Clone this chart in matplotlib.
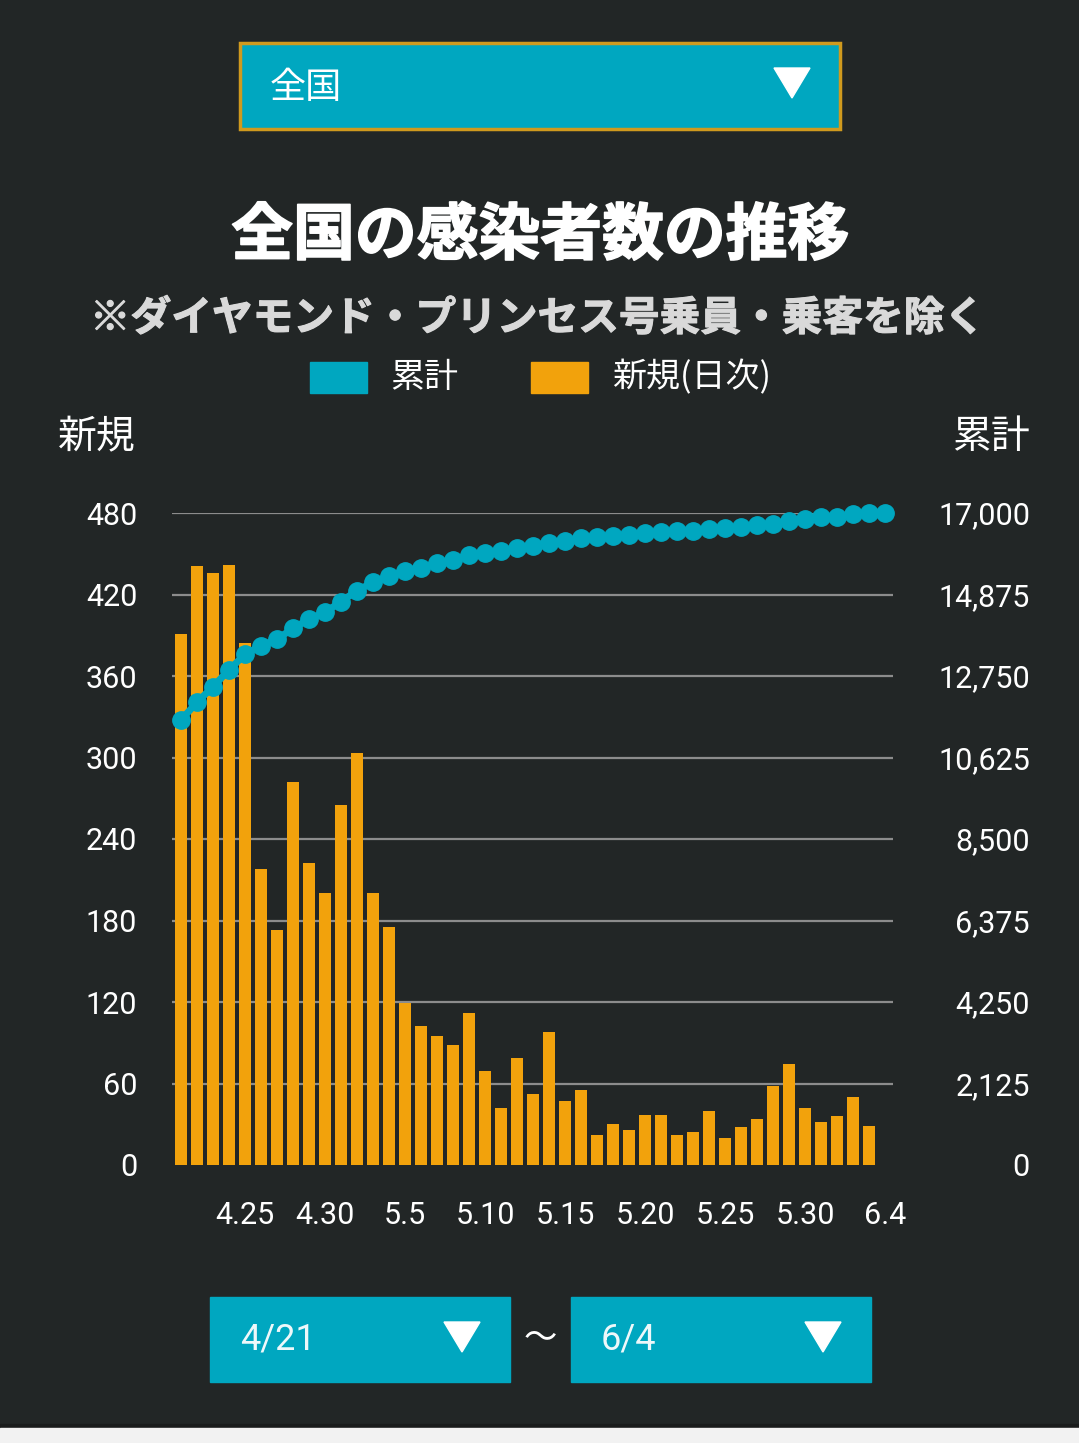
import numpy as np
import pandas as pd
import matplotlib
matplotlib.use("Agg")
import matplotlib.pyplot as plt
import matplotlib.patheffects as pe
from matplotlib.patches import Rectangle, Polygon

# データ
dates = pd.date_range("2020-04-21", "2020-06-04")
new_cases = [391, 441, 436, 442, 384, 218, 173, 282, 222, 200, 265, 303, 200,
             175, 119, 102, 95, 88, 112, 69, 42, 79, 52, 98, 47, 55, 22, 30,
             26, 37, 37, 22, 24, 40, 20, 28, 34, 58, 74, 42, 32, 36, 50, 29]
cumulative = [11603, 12065, 12472, 12907, 13316, 13540, 13707, 13994, 14229,
              14411, 14688, 14975, 15193, 15358, 15488, 15575, 15689, 15775,
              15905, 15966, 15997, 16075, 16148, 16226, 16278, 16341, 16367,
              16409, 16427, 16471, 16505, 16523, 16539, 16575, 16601, 16627,
              16679, 16713, 16792, 16844, 16888, 16904, 16966, 16992, 17008]
left_ticks = [0, 60, 120, 180, 240, 300, 360, 420, 480]
right_ticks = [0, 2125, 4250, 6375, 8500, 10625, 12750, 14875, 17000]
label_days = [4, 9, 14, 19, 24, 29, 34, 39, 44]

BG = "#222626"
CYAN = "#00a7c0"
ORANGE = "#f2a20c"
GRID = "#8c8c8c"
JP = ["Noto Sans CJK JP", "DejaVu Sans"]
NUM = ["Roboto", "DejaVu Sans"]

W, H = 1079, 1443
fig = plt.figure(figsize=(W / 100, H / 100), dpi=100, facecolor=BG)

# --- UI部分 (ピクセル座標の背景軸) ---
ui = fig.add_axes([0, 0, 1, 1], zorder=0)
ui.set_xlim(0, W)
ui.set_ylim(H, 0)
ui.axis("off")

# 上部のドロップダウン
ui.add_patch(Rectangle((240, 43), 600, 86, facecolor=CYAN, edgecolor="#d09a1e", lw=2.5))
ui.text(270, 88, "全国", color="white", fontsize=26, family=JP, va="center", ha="left")
ui.add_patch(Polygon([(774, 68), (810, 68), (792, 98)], closed=True, color="white"))

# タイトル
ui.text(540, 236, "全国の感染者数の推移", color="white", fontsize=44.5,
        fontweight="bold", family=JP, ha="center", va="center",
        path_effects=[pe.withStroke(linewidth=1.2, foreground="white")])
ui.text(538, 319, "※ダイヤモンド・プリンセス号乗員・乗客を除く", color="#d9d9d9",
        fontsize=29.3, fontweight="bold", family=JP, ha="center", va="center",
        path_effects=[pe.withStroke(linewidth=0.8, foreground="#d9d9d9")])

# 凡例
ui.add_patch(Rectangle((310, 362), 57, 31, color=CYAN))
ui.text(390, 378, "累計", color="white", fontsize=24.5, family=JP, va="center")
ui.add_patch(Rectangle((531, 362), 57, 31, color=ORANGE))
ui.text(612, 378, "新規(日次)", color="white", fontsize=24.5, family=JP, va="center")

# 軸ラベル
ui.text(58, 437, "新規", color="white", fontsize=28, family=JP, va="center", ha="left")
ui.text(1030, 437, "累計", color="white", fontsize=28, family=JP, va="center", ha="right")

# 下部の期間選択
for x0, txt in [(210, "4/21"), (571, "6/4")]:
    ui.add_patch(Rectangle((x0, 1297), 300, 85, color=CYAN))
    ui.text(x0 + 30, 1340, txt, color="#eef8fa", fontsize=26, family=NUM,
            va="center", ha="left")
    ui.add_patch(Polygon([(x0 + 234, 1322), (x0 + 270, 1322), (x0 + 252, 1352)],
                         closed=True, color="white"))
ui.text(540, 1338, "〜", color="white", fontsize=24, family=JP, ha="center", va="center")

# 最下部の帯
ui.add_patch(Rectangle((0, 1424), W, 4, color="#1a1c1c"))
ui.add_patch(Rectangle((0, 1428), W, 15, color="#f2f2f2"))

# --- グラフ本体 ---
ax = fig.add_axes([172 / W, (H - 1165) / H, (893 - 172) / W, (1165 - 513) / H], zorder=1)
ax.set_facecolor("none")
x = np.arange(len(dates))

for t in left_ticks[1:]:
    ax.axhline(t, color=GRID, lw=1.6, zorder=0)

ax.bar(x[:len(new_cases)], new_cases, width=0.75, color=ORANGE, zorder=2)
ax.set_xlim(-0.5625, 44.5)
ax.set_ylim(0, 480)
ax.set_yticks(left_ticks)
ax.set_yticklabels([str(t) for t in left_ticks])
ax.set_xticks(label_days)
ax.set_xticklabels([f"{dates[i].month}.{dates[i].day}" for i in label_days])
ax.tick_params(axis="both", length=0, colors="white", labelsize=22)
ax.tick_params(axis="y", pad=25)
ax.tick_params(axis="x", pad=26)
for lab in ax.get_xticklabels() + ax.get_yticklabels():
    lab.set_family(NUM)
for s in ax.spines.values():
    s.set_visible(False)

ax2 = ax.twinx()
ax2.plot(x, cumulative, "-o", color=CYAN, lw=5, ms=12.5, clip_on=False, zorder=3)
ax2.set_ylim(0, 17000)
ax2.set_yticks(right_ticks)
ax2.set_yticklabels([f"{t:,}" for t in right_ticks])
ax2.tick_params(axis="y", length=0, colors="white", labelsize=22, pad=98.6)
for lab in ax2.get_yticklabels():
    lab.set_family(NUM)
    lab.set_ha("right")
for s in ax2.spines.values():
    s.set_visible(False)

fig.savefig("out.png", dpi=100, facecolor=BG)
